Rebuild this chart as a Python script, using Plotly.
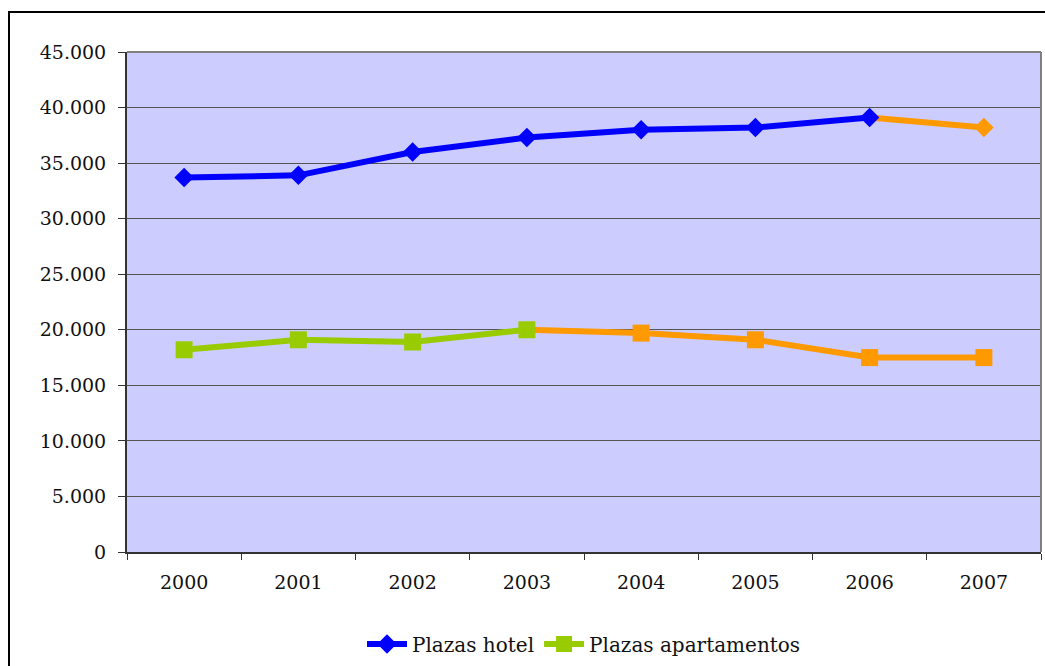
import plotly.graph_objects as go

# Hotel and apartment bed places per year
years = ["2000", "2001", "2002", "2003", "2004", "2005", "2006", "2007"]
plazas_hotel = [33700, 33900, 36000, 37300, 38000, 38200, 39100, 38200]
plazas_apartamentos = [18200, 19100, 18900, 20000, 19700, 19100, 17500, 17500]

# index where each series switches to the highlight colour
hotel_split = 6
apart_split = 3

BLUE = "#0000FF"
GREEN = "#99CC00"
ORANGE = "#FF9900"
FONT = "DejaVu Serif"
LINE_W = 6
DIAMOND = 15
SQUARE = 17

fig = go.Figure()

# highlighted (orange) tail segments, drawn first so the base markers sit on top
fig.add_trace(go.Scatter(
    x=years[hotel_split:], y=plazas_hotel[hotel_split:],
    mode="lines+markers", showlegend=False, hoverinfo="skip",
    line=dict(color=ORANGE, width=LINE_W),
    marker=dict(symbol="diamond", color=ORANGE, opacity=1,
                line=dict(width=0),
                size=[0] + [DIAMOND] * (len(years) - hotel_split - 1)),
))
fig.add_trace(go.Scatter(
    x=years[apart_split:], y=plazas_apartamentos[apart_split:],
    mode="lines+markers", showlegend=False, hoverinfo="skip",
    line=dict(color=ORANGE, width=LINE_W),
    marker=dict(symbol="square", color=ORANGE, opacity=1,
                line=dict(width=0),
                size=[0] + [SQUARE] * (len(years) - apart_split - 1)),
))

# base segments
fig.add_trace(go.Scatter(
    x=years[:hotel_split + 1], y=plazas_hotel[:hotel_split + 1],
    mode="lines+markers", name="Plazas hotel",
    line=dict(color=BLUE, width=LINE_W),
    marker=dict(symbol="diamond", color=BLUE, size=DIAMOND, opacity=1,
                line=dict(width=0)),
))
fig.add_trace(go.Scatter(
    x=years[:apart_split + 1], y=plazas_apartamentos[:apart_split + 1],
    mode="lines+markers", name="Plazas apartamentos",
    line=dict(color=GREEN, width=LINE_W),
    marker=dict(symbol="square", color=GREEN, size=SQUARE, opacity=1,
                line=dict(width=0)),
))

fig.update_layout(
    width=1045, height=666,
    margin=dict(l=127, r=4, t=52, b=114, autoexpand=False),
    paper_bgcolor="white",
    plot_bgcolor="#CCCCFF",
    separators=",.",
    font=dict(family=FONT, size=19, color="#111111"),
    showlegend=True,
    legend=dict(
        orientation="h", x=0.5, xanchor="center", y=-0.184, yanchor="middle",
        font=dict(family=FONT, size=20, color="#111111"),
        bgcolor="rgba(0,0,0,0)", itemwidth=40, tracegroupgap=0,
    ),
    xaxis=dict(
        type="category", categoryorder="array", categoryarray=years,
        tickson="boundaries", automargin=False,
        ticks="outside", ticklen=6, tickwidth=1, tickcolor="#333333",
        showline=True, linecolor="#333333", linewidth=2,
        showgrid=False, zeroline=False, ticklabelstandoff=12,
        tickfont=dict(family=FONT, size=19),
        range=[-0.5, 7.5], fixedrange=True,
    ),
    yaxis=dict(
        range=[0, 45000], dtick=5000, tickformat=",d", automargin=False,
        ticks="outside", ticklen=7, tickwidth=1, tickcolor="#333333",
        showline=True, linecolor="#333333", linewidth=2,
        showgrid=True, gridcolor="#555555", gridwidth=1,
        zeroline=False, ticklabelstandoff=8,
        tickfont=dict(family=FONT, size=19),
        fixedrange=True,
    ),
    shapes=[
        # plot area top and right borders
        dict(type="line", xref="paper", yref="paper", x0=0, x1=1, y0=1, y1=1,
             line=dict(color="#808080", width=2)),
        dict(type="line", xref="paper", yref="paper", x0=1, x1=1, y0=0, y1=1,
             line=dict(color="#808080", width=2)),
        # outer chart frame
        dict(type="rect", xref="paper", yref="paper",
             x0=-0.1291, x1=1.02, y0=1.08, y1=-0.3,
             line=dict(color="#000000", width=2), layer="below"),
    ],
)

fig.write_html("out.html")
